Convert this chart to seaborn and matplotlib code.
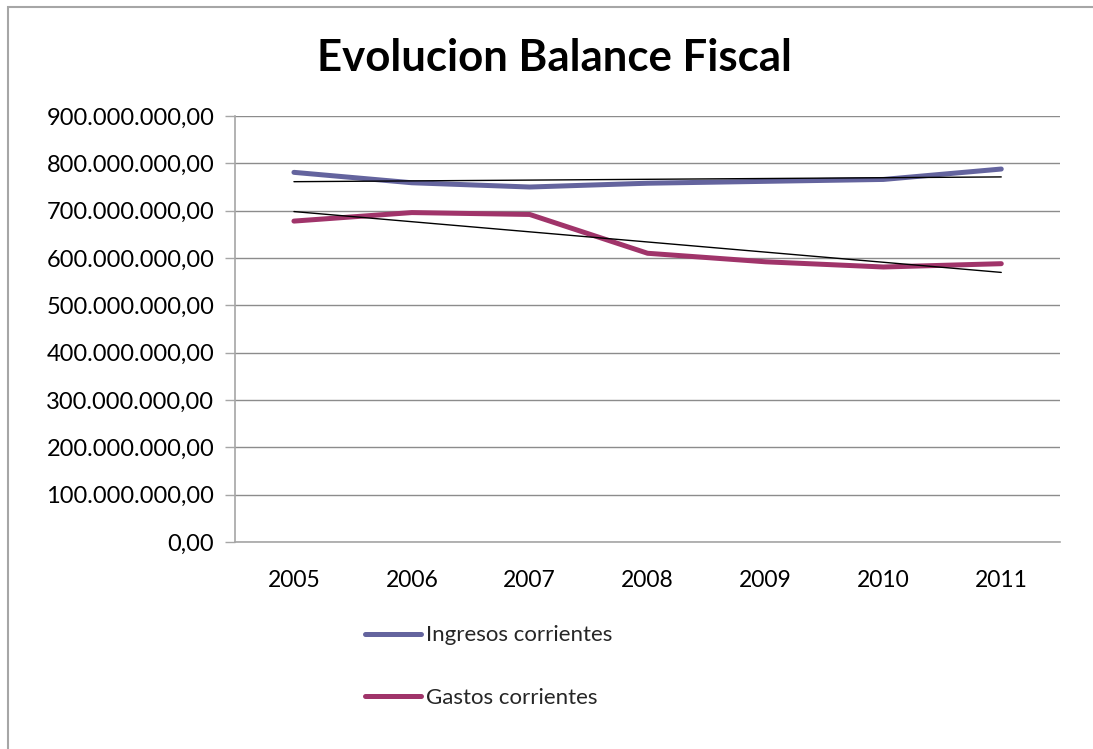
import matplotlib
matplotlib.use("Agg")
import matplotlib.pyplot as plt
import matplotlib.patches as mpatches
import numpy as np
import pandas as pd
import seaborn as sns
from matplotlib.ticker import FuncFormatter, FixedLocator

# --- datos ---
years = ["2005", "2006", "2007", "2008", "2009", "2010", "2011"]
ingresos = [781e6, 759e6, 750e6, 758e6, 762e6, 766e6, 788e6]
gastos = [678e6, 696e6, 692e6, 610e6, 592e6, 581e6, 588e6]
series_names = ["Ingresos corrientes", "Gastos corrientes"]
colors = ["#64649E", "#A0346A"]

df = pd.DataFrame({
    "year": years * 2,
    "valor": ingresos + gastos,
    "serie": [series_names[0]] * len(years) + [series_names[1]] * len(years),
})

sns.set_theme(style="white")
plt.rcParams["font.family"] = ["Lato", "DejaVu Sans"]

fig = plt.figure(figsize=(10.93, 7.49), dpi=100)
ax = fig.add_axes([0.215, 0.2764, 0.755, 0.5687])

# marco del gráfico
fig.patches.append(mpatches.Rectangle((8 / 1093, -0.1), 1.2, 1 - 7 / 749 + 0.1,
                                      transform=fig.transFigure, fill=False,
                                      edgecolor="#A6A6A6", linewidth=1.5))

sns.lineplot(data=df, x="year", y="valor", hue="serie", palette=colors,
             linewidth=3.6, ax=ax, sort=False, legend=True)

# líneas de tendencia (lineal)
xpos = np.arange(len(years))
for vals in (ingresos, gastos):
    m, b = np.polyfit(xpos, vals, 1)
    ax.plot(xpos, m * xpos + b, color="black", linewidth=1.0, zorder=3)

ax.set_xlim(-0.5, len(years) - 0.5)
ax.set_ylim(0, 900e6)
ax.set_yticks(np.arange(0, 900e6 + 1, 100e6))


def fmt_es(v, pos):
    s = f"{v:,.2f}"
    return s.replace(",", "X").replace(".", ",").replace("X", ".")


ax.yaxis.set_major_formatter(FuncFormatter(fmt_es))
ax.xaxis.set_minor_locator(FixedLocator(np.arange(-0.5, len(years), 1.0)))
ax.tick_params(axis="x", which="major", length=0, pad=20, labelsize=16.5, colors="black")
ax.tick_params(axis="x", which="minor", length=7, width=1, color="#A6A6A6", direction="out")
ax.tick_params(axis="y", length=7, width=1, color="#A6A6A6", direction="out",
               left=True, labelsize=17, labelcolor="black", pad=8)

ax.grid(axis="y", color="#8C8C8C", linewidth=1)
ax.set_axisbelow(True)
for side in ("top", "right"):
    ax.spines[side].set_visible(False)
for side in ("left", "bottom"):
    ax.spines[side].set_color("#A6A6A6")
    ax.spines[side].set_linewidth(1.2)

ax.set_xlabel("")
ax.set_ylabel("")

fig.text(0.507, 0.923, "Evolucion Balance Fiscal", ha="center", va="center",
         fontsize=31.5, fontweight="bold", color="black")

handles, labels = ax.get_legend_handles_labels()
ax.get_legend().remove()
fig.legend(handles, labels, loc="center left", bbox_to_anchor=(0.334, 0.110),
           frameon=False, fontsize=16, handlelength=2.5, handletextpad=0.25,
           labelspacing=1.9, borderpad=0, borderaxespad=0)

fig.savefig("out.png", dpi=100, facecolor="white")
